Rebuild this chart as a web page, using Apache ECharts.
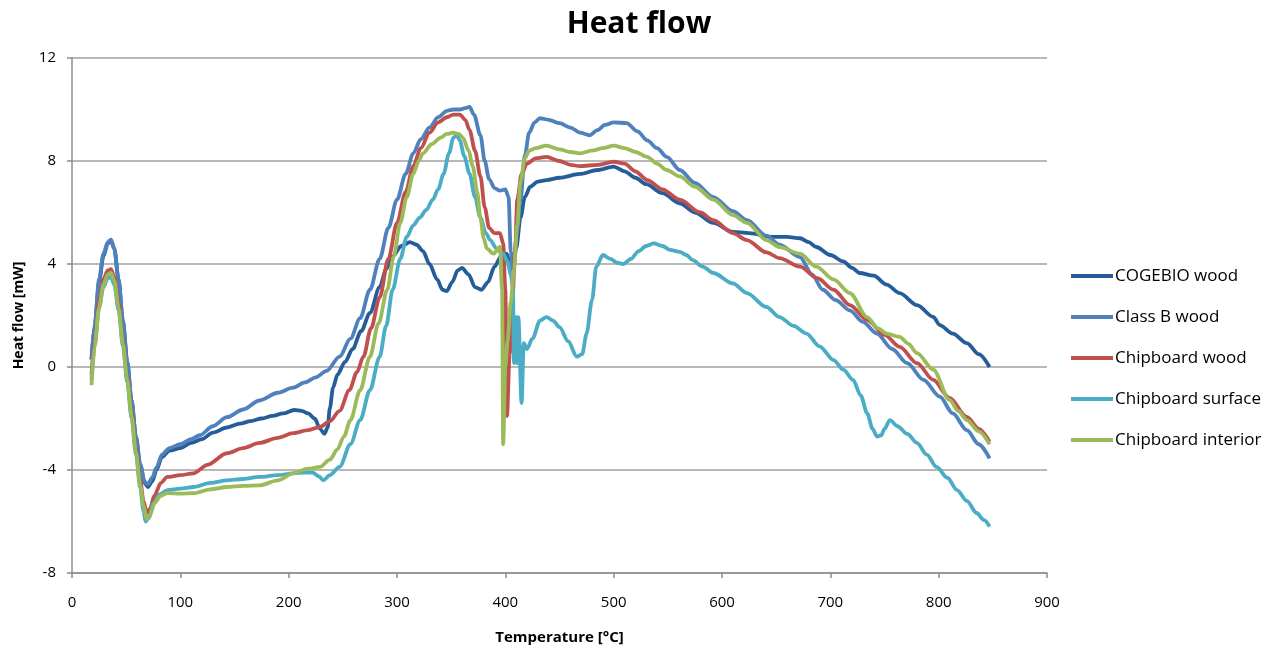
<!DOCTYPE html>
<html>
<head>
<meta charset="utf-8">
<script src="https://cdn.jsdelivr.net/npm/echarts@6/dist/echarts.min.js"></script>
<style>html,body{margin:0;padding:0;background:#fff;}#c{width:1278px;height:652px;}</style>
</head>
<body>
<div id="c"></div>
<script>
const seriesNames = ['COGEBIO wood','Class B wood','Chipboard wood','Chipboard surface','Chipboard interior'];
const xTicks = [0,100,200,300,400,500,600,700,800,900];
const yTicks = [-8,-4,0,4,8,12];

const cogebio = [[18,0.3],[21,1.6],[25,3.3],[29,4.3],[33,4.8],[36,4.9],[39,4.6],[43,3.4],[47,1.8],[51,0.2],[55,-1.3],[59,-2.7],[63,-3.8],[67,-4.5],[70,-4.66],[74,-4.45],[78,-4.0],[83,-3.5],[90,-3.25],[100,-3.15],[110,-2.95],[120,-2.8],[130,-2.55],[143,-2.35],[155,-2.2],[165,-2.1],[175,-2.0],[185,-1.9],[195,-1.8],[205,-1.67],[212,-1.7],[218,-1.8],[224,-2.0],[229,-2.4],[233,-2.6],[236,-2.35],[238,-1.6],[241,-0.8],[245,-0.3],[252,0.2],[259,0.7],[267,1.4],[275,2.1],[284,3.1],[290,3.8],[296,4.3],[304,4.7],[312,4.85],[318,4.75],[324,4.5],[330,4.0],[337,3.4],[342,3.0],[346,2.95],[351,3.3],[356,3.75],[360,3.85],[366,3.6],[372,3.1],[378,3.0],[384,3.3],[390,3.9],[396,4.3],[401,4.4],[404,4.1],[407,3.77],[410,4.6],[414,5.8],[418,6.6],[423,7.0],[430,7.2],[438,7.26],[450,7.35],[469,7.5],[485,7.65],[500,7.78],[510,7.6],[520,7.35],[530,7.1],[545,6.75],[561,6.36],[575,6.0],[592,5.6],[610,5.25],[625,5.2],[647,5.05],[660,5.05],[672,5.0],[680,4.85],[687,4.66],[700,4.35],[712,4.1],[720,3.85],[727,3.65],[740,3.55],[752,3.2],[764,2.87],[780,2.4],[795,1.95],[801,1.63],[813,1.3],[826,0.93],[837,0.5],[847,0.0]];

const classB = [[18,0.3],[21,1.7],[25,3.4],[29,4.4],[33,4.85],[36,4.95],[39,4.6],[43,3.4],[47,1.8],[51,0.2],[55,-1.3],[59,-2.7],[63,-3.8],[67,-4.45],[70,-4.55],[74,-4.3],[78,-3.9],[83,-3.4],[90,-3.15],[100,-3.0],[110,-2.8],[118,-2.65],[130,-2.3],[143,-1.95],[158,-1.65],[173,-1.3],[190,-1.0],[204,-0.8],[215,-0.6],[225,-0.4],[235,-0.15],[247,0.4],[257,1.1],[266,1.9],[275,3.0],[284,4.2],[292,5.4],[300,6.5],[308,7.5],[315,8.3],[322,8.85],[330,9.3],[338,9.7],[346,9.95],[352,10.0],[358,10.0],[363,10.05],[367,10.1],[371,9.8],[377,9.0],[381,8.0],[385,7.3],[390,6.95],[395,6.85],[400,6.9],[403,6.6],[405,4.5],[407,3.65],[411,5.3],[414,6.5],[418,8.2],[422,9.1],[427,9.5],[432,9.66],[440,9.6],[450,9.47],[460,9.3],[469,9.1],[478,9.0],[485,9.2],[492,9.4],[500,9.5],[512,9.47],[522,9.15],[531,8.8],[540,8.5],[549,8.16],[561,7.65],[575,7.15],[592,6.6],[610,6.05],[623,5.7],[641,5.1],[653,4.75],[672,4.27],[683,3.6],[693,3.0],[705,2.6],[718,2.2],[730,1.75],[743,1.3],[757,0.7],[771,0.15],[786,-0.5],[801,-1.15],[813,-1.8],[826,-2.45],[837,-3.0],[847,-3.55]];

const chipWood = [[18,-0.3],[21,1.1],[25,2.6],[29,3.4],[33,3.75],[36,3.8],[39,3.5],[43,2.5],[47,1.0],[51,-0.4],[55,-1.8],[59,-3.2],[63,-4.4],[66,-5.2],[69,-5.67],[72,-5.5],[76,-5.0],[82,-4.5],[88,-4.27],[100,-4.2],[112,-4.13],[125,-3.8],[143,-3.35],[158,-3.15],[173,-2.95],[190,-2.75],[204,-2.57],[218,-2.45],[229,-2.33],[238,-2.1],[247,-1.7],[256,-0.9],[263,-0.2],[269,0.4],[276,1.5],[284,2.7],[292,4.2],[300,5.6],[308,6.8],[315,7.8],[322,8.5],[330,9.1],[338,9.5],[346,9.7],[352,9.8],[358,9.8],[363,9.6],[367,9.2],[372,8.4],[377,7.4],[381,6.2],[385,5.4],[390,5.2],[395,5.2],[398,4.8],[400,3.0],[401.5,-1.9],[404,0.5],[406,2.0],[409,4.5],[411,6.5],[415,7.5],[420,7.9],[428,8.1],[438,8.16],[450,8.0],[460,7.85],[469,7.8],[485,7.85],[500,7.97],[510,7.9],[520,7.6],[531,7.26],[545,6.9],[561,6.5],[580,6.0],[592,5.7],[610,5.2],[623,4.93],[641,4.45],[653,4.23],[672,3.9],[688,3.45],[703,3.0],[718,2.4],[734,1.83],[750,1.25],[764,0.78],[780,0.15],[795,-0.5],[810,-1.2],[826,-1.94],[837,-2.4],[847,-2.9]];

const chipSurface = [[18,-0.5],[21,0.9],[25,2.3],[29,3.1],[33,3.45],[36,3.5],[39,3.2],[43,2.2],[47,0.8],[51,-0.6],[55,-2.0],[59,-3.4],[63,-4.7],[66,-5.6],[68,-6.0],[71,-5.85],[75,-5.3],[81,-4.95],[88,-4.78],[100,-4.72],[112,-4.66],[128,-4.5],[143,-4.4],[158,-4.35],[173,-4.27],[190,-4.2],[204,-4.13],[214,-4.1],[222,-4.1],[228,-4.25],[232,-4.4],[238,-4.2],[247,-3.88],[257,-3.0],[266,-2.06],[275,-0.9],[284,0.4],[290,1.6],[296,3.0],[303,4.2],[309,5.05],[315,5.5],[321,5.8],[327,6.1],[333,6.5],[338,6.9],[343,7.5],[348,8.3],[352,8.9],[355,9.0],[358,8.8],[362,8.2],[367,7.5],[372,6.6],[377,5.8],[382,5.2],[386,4.93],[392,4.6],[398,4.4],[402,4.1],[405,3.6],[407,3.1],[408,0.15],[410,1.94],[411,0.15],[412,1.94],[415,-1.4],[417,0.93],[420,0.7],[425,1.1],[432,1.8],[438,1.94],[444,1.8],[450,1.55],[458,1.0],[466,0.4],[471,0.5],[475,1.3],[480,2.6],[484,3.9],[490,4.35],[497,4.2],[503,4.05],[509,4.0],[516,4.2],[523,4.5],[530,4.7],[537,4.8],[545,4.7],[552,4.55],[561,4.47],[567,4.35],[573,4.15],[582,3.9],[592,3.65],[610,3.25],[623,2.87],[641,2.33],[653,1.94],[666,1.6],[678,1.3],[690,0.8],[703,0.27],[712,-0.1],[721,-0.5],[728,-1.1],[734,-1.8],[739,-2.4],[743,-2.7],[747,-2.65],[750,-2.4],[755,-2.06],[762,-2.3],[771,-2.6],[780,-2.95],[789,-3.4],[798,-3.88],[808,-4.3],[817,-4.78],[826,-5.2],[835,-5.67],[842,-5.95],[847,-6.2]];

const chipInterior = [[18,-0.7],[21,0.8],[25,2.3],[29,3.2],[33,3.6],[36,3.65],[39,3.35],[43,2.3],[47,0.9],[51,-0.5],[55,-1.9],[59,-3.3],[63,-4.6],[66,-5.4],[69,-5.9],[72,-5.75],[76,-5.3],[82,-5.0],[88,-4.9],[100,-4.92],[112,-4.9],[128,-4.75],[143,-4.66],[158,-4.62],[173,-4.6],[190,-4.4],[204,-4.13],[218,-3.95],[229,-3.88],[238,-3.6],[245,-3.2],[251,-2.7],[257,-2.06],[266,-0.9],[275,0.4],[283,1.7],[291,3.0],[297,4.3],[303,5.6],[309,6.6],[315,7.5],[320,8.0],[324,8.3],[332,8.65],[340,8.9],[346,9.05],[352,9.1],[357,9.05],[361,8.9],[366,8.4],[370,7.8],[374,6.8],[377,5.8],[380,5.0],[383,4.6],[389,4.4],[395,4.66],[397,3.0],[398,-3.0],[400,0.0],[402,1.0],[405,2.5],[408,3.8],[411,5.5],[414,7.2],[418,8.1],[422,8.4],[428,8.5],[438,8.6],[450,8.45],[460,8.35],[469,8.3],[480,8.4],[490,8.5],[500,8.6],[510,8.5],[520,8.35],[531,8.16],[540,7.9],[549,7.65],[561,7.4],[575,7.0],[592,6.5],[610,5.9],[623,5.6],[641,4.93],[653,4.66],[672,4.4],[687,3.9],[703,3.4],[718,2.87],[734,1.94],[744,1.5],[752,1.3],[764,1.17],[772,0.9],[780,0.54],[795,-0.1],[810,-1.28],[818,-1.7],[826,-2.06],[837,-2.5],[847,-3.0]];

const seriesData = [cogebio, classB, chipWood, chipSurface, chipInterior];
const colors = ['#245D99','#4F81BD','#C0504D','#4BACC6','#9BBB59'];

const chart = echarts.init(document.getElementById('c'), null, {renderer:'canvas'});
const font = 'Open Sans';
chart.setOption({
  animation: false,
  backgroundColor: '#fff',
  title: {
    text: 'Heat flow', left: 'center', top: 4,
    textStyle: {fontFamily: font, fontSize: 30, fontWeight: 'bold', color: '#000'}
  },
  legend: {
    orient: 'vertical', left: 1066, top: 261,
    itemWidth: 42, itemHeight: 4, itemGap: 21, icon: 'rect',
    textStyle: {fontFamily: font, fontSize: 17, color: '#000', lineHeight: 20, padding: [0,0,0,-3]},
    data: seriesNames
  },
  grid: {left: 72, right: 231, top: 58, bottom: 79},
  xAxis: {
    type: 'value', min: xTicks[0], max: xTicks[xTicks.length-1], interval: 100,
    name: 'Temperature [°C]', nameLocation: 'middle', nameGap: 57,
    nameTextStyle: {fontFamily: font, fontSize: 15, fontWeight: 'bold', color: '#000'},
    axisLine: {onZero: false, lineStyle: {color: '#8c8c8c', width: 1.5}},
    axisTick: {show: true, length: 5, lineStyle: {color: '#8c8c8c', width: 1.5}},
    axisLabel: {fontFamily: font, fontSize: 15, color: '#000', margin: 22},
    splitLine: {show: false}
  },
  yAxis: {
    type: 'value', min: yTicks[0], max: yTicks[yTicks.length-1], interval: 4,
    name: 'Heat flow [mW]', nameLocation: 'middle', nameGap: 46, nameRotate: 90,
    nameTextStyle: {fontFamily: font, fontSize: 14, fontWeight: 'bold', color: '#000'},
    axisLine: {show: true, onZero: false, lineStyle: {color: '#8c8c8c', width: 1.5}},
    axisTick: {show: true, length: 5, lineStyle: {color: '#8c8c8c', width: 1.5}},
    axisLabel: {fontFamily: font, fontSize: 15, color: '#000', margin: 16},
    splitLine: {show: true, lineStyle: {color: '#a0a0a0', width: 1.5}}
  },
  series: seriesNames.map((n, i) => ({
    name: n, type: 'line', data: seriesData[i], symbol: 'none',
    smooth: 0.3, smoothMonotone: 'x',
    lineStyle: {color: colors[i], width: 3.8},
    itemStyle: {color: colors[i]}
  }))
});
</script>
</body>
</html>
